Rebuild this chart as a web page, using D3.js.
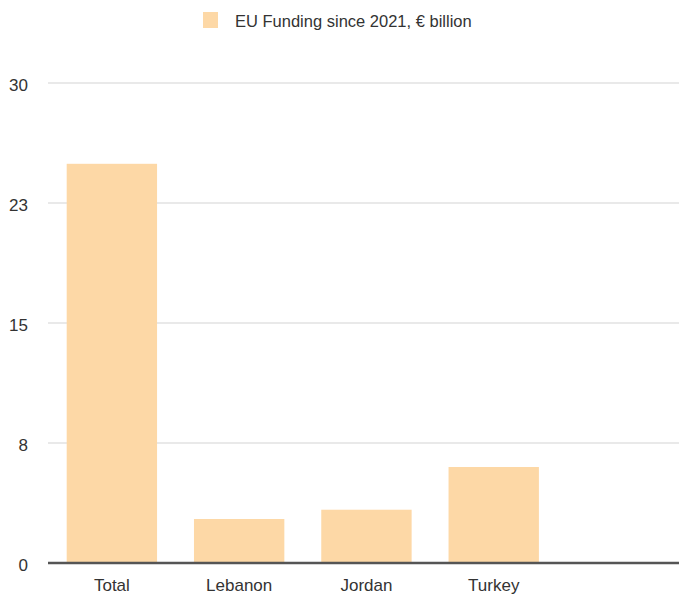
<html>
<head>
<meta charset="utf8">
<title>EU Funding</title>
<style>
body { margin:0; background:white; }
text { font-family: "Liberation Sans", Arial, sans-serif; fill:#333; }
</style>
<script src="https://d3js.org/d3.v7.min.js"></script>
</head>
<body>
<div id="chart"></div>
<script>

var categories = ["Total", "Lebanon", "Jordan", "Turkey"];
var values = [24.95, 2.75, 3.33, 6.0];
var tickValues = [0, 7.5, 15, 22.5, 30];
var seriesName = "EU Funding since 2021, \u20ac billion";

var width = 679; // 캔버스 폭
var height = 599; // 캔버스 높이
var gridLeft = 48, gridRight = 679; // 격자선 범위
var plotTop = 83, plotBottom = 563;
var barColor = "#fdd8a6";

var svg = d3.select("#chart")
            .append("svg")
            .attr("width", width)
            .attr("height", height);

var x = d3.scaleBand()
          .domain(categories)
          .range([47.6, 558])
          .paddingInner(0.29)
          .paddingOuter(0.15);

var y = d3.scaleLinear()
          .domain([0, 30])
          .range([plotBottom, plotTop]);

// 격자선
svg.append("g")
   .selectAll("line")
   .data(tickValues.slice(1))
   .enter().append("line")
   .attr("x1", gridLeft)
   .attr("x2", gridRight)
   .attr("y1", function(d){ return y(d); })
   .attr("y2", function(d){ return y(d); })
   .attr("stroke", "#e2e2e2")
   .attr("stroke-width", 1.5);

// y축 눈금 글자
var yAxis = svg.append("g")
   .attr("transform", "translate(30,0)")
   .call(d3.axisLeft(y)
           .tickValues(tickValues)
           .tickSize(0)
           .tickPadding(2)
           .tickFormat(function(d){ return Math.round(d); }));
yAxis.select(".domain").remove();
yAxis.selectAll("text")
     .attr("font-size", 17)
     .attr("dy", "0.42em")
     .style("font-family", "'Liberation Sans', Arial, sans-serif")
     .attr("fill", "#333");

// 막대
svg.append("g")
   .selectAll("rect")
   .data(values)
   .enter().append("rect")
   .attr("x", function(d, i){ return x(categories[i]); })
   .attr("y", function(d){ return y(d); })
   .attr("width", x.bandwidth())
   .attr("height", function(d){ return y(0) - y(d); })
   .attr("fill", barColor);

// 기준선
svg.append("line")
   .attr("x1", gridLeft)
   .attr("x2", gridRight)
   .attr("y1", y(0))
   .attr("y2", y(0))
   .attr("stroke", "#555")
   .attr("stroke-width", 2.5);

// x축 글자
var xAxis = svg.append("g")
   .attr("transform", "translate(0," + y(0) + ")")
   .call(d3.axisBottom(x).tickSize(0).tickPadding(12));
xAxis.select(".domain").remove();
xAxis.selectAll("text")
     .attr("font-size", 17)
     .attr("dy", "0.95em")
     .style("font-family", "'Liberation Sans', Arial, sans-serif")
     .attr("fill", "#333");

// 범례
svg.append("rect")
   .attr("x", 203)
   .attr("y", 12)
   .attr("width", 15)
   .attr("height", 16)
   .attr("fill", barColor);

svg.append("text")
   .attr("x", 235)
   .attr("y", 27)
   .attr("font-size", 16.5)
   .text(seriesName);

</script>
</body>
</html>
